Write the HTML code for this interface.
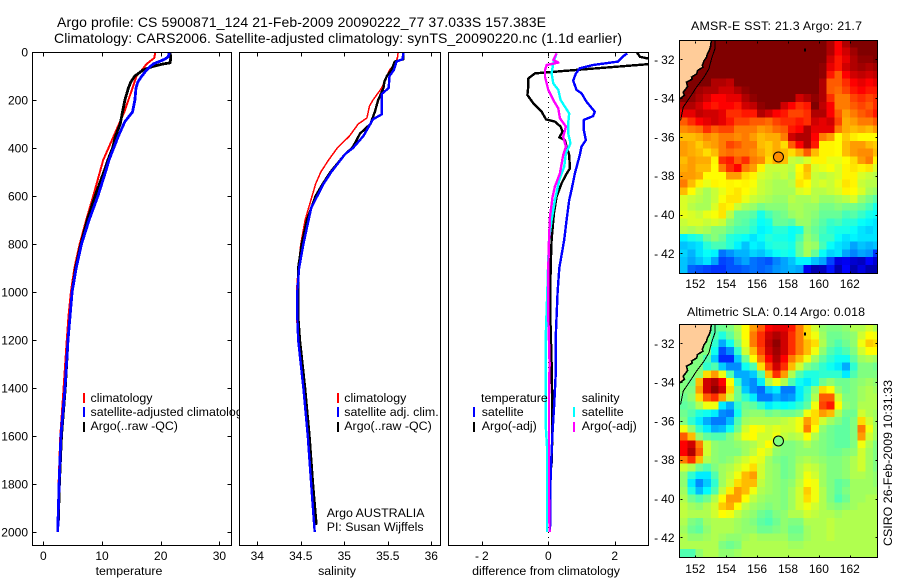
<!DOCTYPE html>
<html lang="en">
<head>
<meta charset="utf-8">
<title>Argo profile</title>
<style>
html,body{margin:0;padding:0;background:#fff;}
svg{display:block;}
text{font-family:"Liberation Sans",sans-serif;fill:#000;}
.t14{font-size:14px;}
.t13{font-size:12.4px;}
.t12{font-size:12px;}
</style>
</head>
<body>
<svg id="fig" width="900" height="580" viewBox="0 0 900 580" xmlns="http://www.w3.org/2000/svg">
<rect x="0" y="0" width="900" height="580" fill="#fff"/>
<defs>
<clipPath id="clip1"><rect x="32" y="52" width="199" height="493"/></clipPath>
<clipPath id="clip2"><rect x="240" y="52" width="200" height="493"/></clipPath>
<clipPath id="clip3"><rect x="448" y="52" width="200" height="493"/></clipPath>
<clipPath id="clipM1"><rect x="680" y="41" width="197" height="232"/></clipPath>
<clipPath id="clipM2"><rect x="680" y="325" width="197" height="232"/></clipPath>
</defs>
<text class="t14" x="57" y="27" textLength="489">Argo profile: CS 5900871_124 21-Feb-2009 20090222_77 37.033S 157.383E</text>
<text class="t14" x="54" y="43" textLength="568">Climatology: CARS2006. Satellite-adjusted climatology: synTS_20090220.nc (1.1d earlier)</text>
<g id="root"></g>
</svg>
<script>
// ---------- temperature panel data ----------
var tempClimDepth=[0,25,50,75,100,150,200,250,300,350,400,450,500,600,700,800,900,1000,1100,1200,1400,1600,1800,2000];
var tempClim=[19.1,18.9,17.6,16.8,15.9,15.2,14.5,13.8,12.9,12.0,11.1,10.2,9.65,8.5,7.3,6.2,5.3,4.7,4.3,4.0,3.45,2.9,2.6,2.45];
var tempArgoDepth=[0,25,45,50,60,75,100,125,150,200,250,300,350,400,450,500,600,700,800,900,1000,1200,1400,1600,1800,1960];
var tempArgo=[21.6,21.7,21.6,20.4,18.7,17,15.6,14.9,14.5,13.9,13.5,13.1,12.3,11.8,11,10.3,8.8,7.5,6.4,5.5,4.9,4.2,3.75,3.1,2.75,2.55];
var tempSatDepth=[0,20,30,50,75,100,125,150,200,250,290,350,400,450,500,600,700,800,900,1000,1200,1400,1600,1800,2000];
var tempSat=[21.5,21.3,20.7,18.7,17.6,16.8,16.1,15.8,15.6,15.2,13.9,12.8,12,11.2,10.6,9.3,7.8,6.5,5.6,4.9,4.2,3.7,3,2.7,2.45];
// ---------- salinity panel data ----------
var salClimDepth=[0,25,50,75,100,150,200,225,275,300,350,400,450,500,550,600,650,700,800,900,1000,1100,1200,1400,1600,1800,2000];
var salClim=[35.62,35.61,35.58,35.52,35.49,35.43,35.33,35.29,35.26,35.16,35.06,34.92,34.82,34.73,34.67,34.63,34.59,34.55,34.50,34.47,34.45,34.45,34.47,34.53,34.58,34.62,34.66];
var salArgoDepth=[0,30,40,75,100,125,150,200,250,300,340,375,400,425,500,550,600,650,700,800,900,1000,1100,1200,1300,1400,1600,1800,1970];
var salArgo=[35.68,35.68,35.58,35.54,35.49,35.46,35.45,35.39,35.35,35.30,35.18,35.13,35.09,35.01,34.84,34.75,34.67,34.62,34.57,34.51,34.47,34.47,34.47,34.49,34.52,34.55,34.60,34.64,34.68];
var salSatDepth=[0,30,40,75,100,150,175,225,260,280,350,400,425,500,550,600,650,700,800,900,1000,1100,1200,1300,1400,1600,1800,2000];
var salSat=[35.68,35.67,35.60,35.57,35.52,35.51,35.43,35.43,35.43,35.33,35.22,35.10,35.01,34.85,34.76,34.69,34.62,34.59,34.53,34.48,34.46,34.46,34.47,34.50,34.53,34.58,34.62,34.66];
// ---------- difference panel data ----------
var diffTArgoDepth=[0,10,20,30,40,48,51,68,79,89,110,137,179,214,249,281,290,311,332,356,367,394,429,485,512,547,603,672,783,900,1100,1300,1462,1601,1712,1767,1950];
var diffTArgo=[2.66,2.71,2.76,3.1,3.5,3.5,3.0,1.46,0.45,-0.40,-0.60,-0.60,-0.63,-0.45,-0.2,-0.07,0.2,0.37,0.43,0.33,0.5,0.55,0.63,0.65,0.53,0.4,0.25,0.17,0.1,0.07,0.06,0.1,0.12,0.12,0.1,0.05,0.02];
var diffTSatDepth=[6,19,40,54,68,89,119,158,172,207,249,267,283,325,367,394,429,506,575,617,700,783,900,1000,1100,1200,1325,1462,1601,1767,2000];
var diffTSat=[2.38,2.24,2.1,1.35,0.95,0.83,0.75,0.85,1.0,1.15,1.4,1.35,1.07,1.07,1.13,1.0,0.95,0.8,0.7,0.63,0.55,0.48,0.33,0.28,0.25,0.22,0.23,0.18,0.12,0.07,0.05];
var diffSSatDepth=[6,47,89,131,158,200,228,256,297,339,381,422,478,533,617,700,783,900,1000,1200,1325,1547,1644,2000];
var diffSSat=[0.25,0.15,0.10,0.15,0.3,0.37,0.5,0.63,0.6,0.6,0.67,0.53,0.48,0.33,0.2,0.1,0.02,-0.01,-0.03,-0.08,-0.08,-0.08,-0.04,-0.04];
var diffSArgoDepth=[6,33,44,54,75,103,158,200,235,276,311,353,394,429,506,561,603,686,783,900,1100,1300,1436,1644,1850,2000];
var diffSArgo=[0.25,0.15,0.30,-0.05,-0.10,-0.10,0,0.15,0.3,0.35,0.53,0.45,0.53,0.45,0.35,0.2,0.13,0.05,0.02,0,0,0.04,0.02,0.02,0.02,0.04];
// ---------- tick labels ----------
var depthTicks=[0,200,400,600,800,1000,1200,1400,1600,1800,2000];
var tempTicks=[0,10,20,30];
var salTicks=[34,34.5,35,35.5,36];
var diffTicks=[-2,0,2];
var lonTicks=[152,154,156,158,160,162];
var latTicks=[-32,-34,-36,-38,-40,-42];
// ---------- coast / shelf (lon,lat) ----------
var coastLon=[153.05,153.0,152.98,152.9,152.79,152.72,152.57,152.45,152.5,152.14,152.1,151.76,151.8,151.43,151.5,151.22,151.3,151.0];
var coastLat=[-31,-31.2,-31.38,-31.55,-31.72,-31.9,-32.07,-32.32,-32.4,-32.58,-32.75,-32.92,-33.02,-33.18,-33.4,-33.70,-33.85,-34.04];
var shelfLon=[153.27,153.27,153.05,152.88,152.57,152.08,151.65,151.22,151.04];
var shelfLat=[-31,-31.46,-31.98,-32.49,-32.92,-33.44,-33.96,-34.47,-35.16];
var floatLon=157.383;
var floatLat=-37.033;
var floatSstIndex=49;
var floatSlaIndex=33;
// ---------- SST grid, colour index 0-63, north to south ----------
var sstGrid=[
[63,63,63,63,63,63,63,63,63,63,63,63,63,63,63,63,63,63,63,60,56,60,63,63,63,63],
[63,63,63,63,63,63,63,63,63,63,63,63,63,63,63,63,63,63,63,60,56,58,61,63,63,63],
[63,63,63,63,63,63,63,63,63,63,63,63,63,63,63,63,63,63,63,58,55,57,60,62,62,63],
[63,63,63,63,63,63,63,63,63,63,63,63,63,63,63,63,63,63,62,57,55,58,60,61,60,61],
[63,63,63,63,63,63,63,63,63,63,63,63,63,63,63,63,63,63,62,55,52,56,58,59,58,59],
[63,63,63,63,60,60,59,63,63,63,63,63,63,63,63,63,63,63,60,52,52,54,56,57,56,57],
[63,63,61,60,60,58,58,60,62,63,63,63,63,63,63,63,63,63,60,52,51,53,55,56,55,55],
[63,62,60,58,56,56,57,57,60,62,63,63,63,63,63,58,60,62,60,54,50,50,53,54,53,54],
[60,60,58,56,55,56,56,55,58,59,62,63,63,58,56,54,55,63,59,56,50,50,52,53,52,54],
[57,57,59,58,58,57,54,54,55,55,60,58,56,55,53,53,54,60,60,56,52,48,50,52,53,55],
[52,54,56,57,58,57,55,53,53,52,52,51,53,54,54,55,54,58,57,58,53,47,48,50,50,52],
[49,50,51,54,52,53,53,50,50,50,48,49,51,52,55,56,60,57,57,57,50,47,46,47,46,48],
[46,46,47,49,48,50,50,49,50,48,46,47,47,50,58,60,60,56,50,48,42,45,43,42,42,42],
[48,47,45,47,48,50,53,52,50,50,46,45,47,44,52,56,60,55,40,40,42,46,48,48,46,45],
[48,47,46,44,46,50,51,50,50,49,47,45,47,46,44,47,52,46,40,40,42,46,48,49,49,46],
[46,48,47,47,40,54,55,52,54,50,49,44,47,46,36,35,37,40,40,38,38,42,44,48,50,40],
[47,48,46,46,42,50,54,56,50,48,40,36,36,36,35,42,46,37,38,39,37,40,41,40,41,37],
[48,48,47,42,42,42,48,48,44,40,37,36,35,36,34,40,45,36,35,36,37,40,40,37,36,35],
[50,46,40,38,40,42,40,42,40,39,36,35,34,34,35,41,42,36,37,36,38,41,40,36,35,35],
[46,42,36,34,36,38,40,41,42,38,36,35,34,34,34,37,38,35,35,36,37,40,42,37,34,33],
[37,36,35,34,36,39,41,41,38,36,35,34,33,33,35,34,34,35,33,33,34,35,37,33,31,29],
[37,35,34,34,37,41,40,36,34,33,31,32,32,32,34,34,33,33,31,31,32,31,31,30,28,25],
[38,37,36,38,39,41,35,30,30,29,25,28,30,31,33,34,33,32,30,30,30,28,29,27,25,24],
[36,37,37,36,37,36,32,30,29,27,24,25,30,30,29,33,33,31,29,27,28,26,26,24,23,22],
[35,34,35,34,32,32,30,28,28,26,23,24,26,26,24,25,32,30,28,26,25,25,24,22,21,22],
[23,25,26,30,32,30,26,25,24,22,24,26,25,25,24,28,33,31,27,27,24,22,23,22,22,22],
[20,21,22,26,28,28,26,23,20,23,22,25,26,26,25,30,34,33,28,24,22,21,18,20,19,20],
[21,19,22,24,23,15,17,19,19,21,20,22,24,25,24,30,34,30,24,21,22,18,16,18,17,11],
[20,18,20,22,18,12,13,16,18,15,14,13,16,18,20,23,23,20,18,12,6,7,5,4,8,5],
[20,14,13,12,11,11,13,13,14,15,14,15,17,18,19,18,7,3,4,9,3,8,3,6,3,3]
];
// ---------- SLA grid, colour index 0-63, north to south ----------
var slaGrid=[
[33,33,33,33,31,32,33,36,42,48,52,56,57,57,55,50,44,38,34,33,33,34,36,36,38,36],
[33,33,33,33,30,27,31,35,42,50,54,58,60,58,54,50,44,40,35,32,32,33,34,38,42,40],
[33,33,33,33,28,20,26,33,40,50,54,59,62,58,54,50,46,44,36,32,30,32,34,40,45,44],
[33,33,33,33,26,14,18,28,38,46,53,58,61,58,54,50,46,40,34,30,28,30,33,38,42,42],
[33,33,33,30,22,12,12,22,32,42,50,56,60,56,50,46,40,35,31,28,26,26,31,35,36,35],
[33,33,33,28,30,22,18,18,26,30,44,53,58,54,46,38,33,31,28,26,24,20,28,33,33,32],
[33,33,34,44,48,40,30,20,20,22,30,46,54,48,36,30,27,27,28,28,28,24,30,33,33,33],
[33,32,46,58,60,56,42,28,20,18,24,36,40,36,30,26,24,27,32,34,32,32,33,34,35,34],
[33,33,48,58,62,58,44,32,22,18,16,22,24,17,17,24,28,34,44,42,34,32,33,35,36,35],
[32,34,44,52,54,48,38,32,28,24,17,17,20,18,19,24,29,36,52,52,38,33,33,35,36,36],
[31,32,36,40,40,24,20,28,32,31,28,24,26,25,26,28,31,40,53,55,42,34,33,36,36,36],
[32,30,27,26,24,18,17,26,33,34,34,32,33,32,32,33,40,44,48,46,36,32,32,38,36,35],
[33,28,24,20,17,17,21,30,35,36,36,36,36,37,38,40,48,44,38,35,33,31,33,44,38,35],
[40,34,28,24,20,21,26,32,38,42,40,38,39,38,38,40,50,42,34,32,31,31,33,50,40,35],
[52,46,34,31,30,30,33,36,40,42,38,38,40,37,36,37,42,36,33,32,31,31,33,48,38,35],
[56,58,50,38,34,33,33,34,35,36,38,41,36,33,33,34,36,34,33,32,31,31,33,40,36,33],
[56,60,52,38,34,33,33,33,35,37,40,38,34,33,33,34,34,34,33,32,32,33,34,38,35,33],
[50,54,46,36,34,33,34,36,38,40,39,35,33,32,33,35,36,35,34,33,33,34,36,38,35,33],
[38,36,32,30,33,35,36,38,40,44,38,35,34,32,33,36,38,37,35,33,33,34,36,38,35,33],
[34,28,24,24,30,35,37,40,46,48,38,35,34,32,33,36,40,38,35,33,33,34,36,36,35,34],
[34,24,18,22,28,35,38,44,46,46,37,35,34,33,34,37,42,40,35,33,31,32,35,35,35,34],
[35,27,21,25,30,37,43,48,46,40,36,35,34,33,35,38,45,40,36,33,31,33,35,35,35,35],
[36,32,30,32,36,42,48,48,42,37,35,34,34,33,35,38,44,40,36,33,30,32,35,35,36,36],
[37,35,34,36,38,45,47,42,37,35,34,33,34,33,35,38,40,38,36,34,33,34,35,36,36,36],
[37,36,36,36,38,41,40,37,35,34,32,31,33,34,36,36,38,37,36,36,35,36,36,36,36,36],
[36,33,32,35,36,36,36,35,34,33,31,30,32,34,33,33,36,36,36,37,36,36,36,36,36,36],
[35,32,31,34,36,36,36,35,34,34,32,32,33,34,32,32,35,36,36,37,36,36,36,36,36,36],
[36,34,34,35,36,35,34,34,35,36,35,35,35,35,33,33,35,36,36,37,36,36,36,36,36,36],
[36,36,36,36,36,33,32,33,36,36,36,36,36,36,35,35,36,36,36,36,36,36,36,36,36,36],
[30,30,34,36,36,34,34,35,36,36,36,36,36,36,36,36,36,36,36,36,36,36,36,36,36,36]
];

var NS='http://www.w3.org/2000/svg';
var root=document.getElementById('root');
function el(tag,attrs,parent,txt){
  var e=document.createElementNS(NS,tag);
  for(var k in attrs){e.setAttribute(k,attrs[k]);}
  if(txt!==undefined){e.textContent=txt;}
  (parent||root).appendChild(e);
  return e;
}
// ---------- axis functions ----------
function depthY(d){return 52+0.24*d;}
function tempX(t){return 43.3+5.87*t;}
function salX(s){return 257.3+87*(s-34);}
function diffX(v){return 548.3+33.2*v;}
function lonX(lon){return 695.3+(lon-152)*15.45;}
function latY1(lat){return 59.3+(-32-lat)*19.4;}
function latY2(lat){return 343.3+(-32-lat)*19.4;}

function jet(i,lowShift){
  if(i>=42&&i<=52){i-=2.5;}
  else if(i>52&&i<58){i-=(58-i)/2.4;}
  else if(i<42){i-=lowShift;}
  var v=i/63;
  function c(x){return Math.round(255*Math.max(0,Math.min(1,x)));}
  return 'rgb('+c(1.5-Math.abs(4*v-3))+','+c(1.5-Math.abs(4*v-2))+','+c(1.5-Math.abs(4*v-1))+')';
}
function profile(depths,vals,xf,color,w,clip,name,parent){
  var pts=[];
  for(var i=0;i<depths.length;i++){pts.push(xf(vals[i]).toFixed(1)+','+depthY(depths[i]).toFixed(1));}
  var p=el('polyline',{points:pts.join(' '),fill:'none',stroke:color,'stroke-width':w,'clip-path':'url(#'+clip+')','shape-rendering':'crispEdges','stroke-linejoin':'round'},parent);
  
  
  return p;
}
function frame(x0,y0,x1,y1,name){
  var r=el('rect',{x:x0+0.5,y:y0+0.5,width:x1-x0,height:y1-y0,fill:'none',stroke:'#000','stroke-width':1,'shape-rendering':'crispEdges'});
  
  
}
function bg(x0,y0,x1,y1){el('rect',{x:x0,y:y0,width:x1-x0+1,height:y1-y0+1,fill:'#fff'});}
function tick(x1,y1,x2,y2){
  var l=el('line',{x1:Math.round(x1)+0.5,y1:Math.round(y1)+0.5,x2:Math.round(x2)+0.5,y2:Math.round(y2)+0.5,stroke:'#000','stroke-width':1,'shape-rendering':'crispEdges'});
  
  
}
function label(x,y,str,anchor,cls,name){
  var t=el('text',{x:x,y:y,'text-anchor':anchor,'class':cls},root,str);
  
  
  return t;
}
function negLabel(x,y,val,anchor,name){
  var t=label(x,y,'',anchor,'t12',name);
  if(val<0){
    el('tspan',{'letter-spacing':'3'},t,'-');
    el('tspan',{},t,String(-val));
  } else {
    t.textContent=String(val);
  }
  return t;
}
function legendBar(x,y,color,name){
  var r=el('rect',{x:x,y:y,width:2,height:10,fill:color,'shape-rendering':'crispEdges'});
  
  
}
function panelXTicks(ticks,xf,y0,y1,name,len){
  ticks.forEach(function(v){
    tick(xf(v),y0,xf(v),y0+len);
    tick(xf(v),y1,xf(v),y1-len);
    negLabel(xf(v),560,v,'middle',name);
  });
}

// ---------- panel 1: temperature ----------
bg(32,52,231,545);
profile(tempClimDepth,tempClim,tempX,'#ff0000',2,'clip1','temperature-climatology-line');
profile(tempArgoDepth,tempArgo,tempX,'#000000',2.8,'clip1','temperature-argo-line');
profile(tempSatDepth,tempSat,tempX,'#0000ff',2.8,'clip1','temperature-satellite-line');
frame(32,52,231,545,'temperature-axes');
depthTicks.forEach(function(d){
  tick(32,depthY(d),36,depthY(d));
  tick(231,depthY(d),227,depthY(d));
  label(28,depthY(d)+4.5,String(d),'end','t12','depth-tick-label');
});
panelXTicks(tempTicks,tempX,52,545,'temperature-tick-label',4);
label(129,575,'temperature','middle','t13','temperature-axis-title');
legendBar(83,393,'#ff0000','legend-key-climatology');
legendBar(83,407,'#0000ff','legend-key-satellite-adjusted');
legendBar(83,422,'#000000','legend-key-argo');
label(90.5,402,'climatology','start','t13','legend-entry-climatology');
label(90.5,416,'satellite-adjusted climatology','start','t13','legend-entry-satellite-adjusted');
label(90.5,430,'Argo(..raw -QC)','start','t13','legend-entry-argo');

// ---------- panel 2: salinity ----------
bg(239,52,440,545);
profile(salClimDepth,salClim,salX,'#ff0000',1.5,'clip2','salinity-climatology-line');
profile(salArgoDepth,salArgo,salX,'#000000',2.4,'clip2','salinity-argo-line');
profile(salSatDepth,salSat,salX,'#0000ff',2.4,'clip2','salinity-satellite-line');
frame(239,52,440,545,'salinity-axes');
panelXTicks(salTicks,salX,52,545,'salinity-tick-label',4);
label(337,575,'salinity','middle','t13','salinity-axis-title');
legendBar(337,393,'#ff0000','legend-key-climatology');
legendBar(337,407,'#0000ff','legend-key-satellite-adj');
legendBar(337,422,'#000000','legend-key-argo');
label(344.3,402,'climatology','start','t13','legend-entry-climatology');
label(344.3,416,'satellite adj. clim.','start','t13','legend-entry-satellite-adj');
label(344.3,430,'Argo(..raw -QC)','start','t13','legend-entry-argo');
label(326.7,517,'Argo AUSTRALIA','start','t13','float-program-label');
label(326.7,531,'PI: Susan Wijffels','start','t13','principal-investigator-label');

// ---------- panel 3: difference ----------
bg(448,52,648,545);
var zero=el('line',{x1:diffX(0),y1:52,x2:diffX(0),y2:545,stroke:'#000','stroke-width':1,'stroke-dasharray':'1 4','shape-rendering':'crispEdges'});


profile(diffTArgoDepth,diffTArgo,diffX,'#000000',2.4,'clip3','difference-temperature-argo-line');
profile(diffTSatDepth,diffTSat,diffX,'#0000ff',2.4,'clip3','difference-temperature-satellite-line');
profile(diffSSatDepth,diffSSat,diffX,'#00ffff',2.4,'clip3','difference-salinity-satellite-line');
profile(diffSArgoDepth,diffSArgo,diffX,'#ff00ff',2.4,'clip3','difference-salinity-argo-line');
frame(448,52,648,545,'difference-axes');
panelXTicks(diffTicks,diffX,52,545,'difference-tick-label',4);
label(546,575,'difference from climatology','middle','t13','difference-axis-title');
label(481,402,'temperature','start','t13','legend-heading-temperature');
label(481.7,416,'satellite','start','t13','legend-entry-temperature-satellite');
label(481.7,430,'Argo(-adj)','start','t13','legend-entry-temperature-argo');
legendBar(473,407,'#0000ff','legend-key-temperature-satellite');
legendBar(473,422,'#000000','legend-key-temperature-argo');
label(581.7,402,'salinity','start','t13','legend-heading-salinity');
label(581.7,416,'satellite','start','t13','legend-entry-salinity-satellite');
label(581.7,430,'Argo(-adj)','start','t13','legend-entry-salinity-argo');
legendBar(573,407,'#00ffff','legend-key-salinity-satellite');
legendBar(573,422,'#ff00ff','legend-key-salinity-argo');

// ---------- maps ----------
function drawMap(grid,latY,clip,cellName,x0,y0,x1,y1,dotIndex,mapName,labelY,lowShift){
  var g=el('g',{'clip-path':'url(#'+clip+')'});
  
  
  var cw=0.5*15.45, ch=0.4*19.4;
  for(var r=0;r<grid.length;r++){
    for(var c=0;c<grid[r].length;c++){
      var lon=151+c*0.5, lat=-31-r*0.4;
      var cell=el('rect',{x:lonX(lon).toFixed(2),y:latY(lat).toFixed(2),width:(cw+0.6).toFixed(2),height:(ch+0.6).toFixed(2),fill:jet(grid[r][c],lowShift),'shape-rendering':'crispEdges'},g);
      
      
    }
  }
  var landPts=[];
  coastLon.forEach(function(lo,i){landPts.push(lonX(lo).toFixed(1)+','+latY(coastLat[i]).toFixed(1));});
  landPts.push('679,'+latY(coastLat[coastLat.length-1]).toFixed(1));
  landPts.push('679,'+y0);
  var land=el('polygon',{points:landPts.join(' '),fill:'#ffcc99',stroke:'none'},g);
  
  
  var coastPts=[];
  coastLon.forEach(function(lo,i){coastPts.push(lonX(lo).toFixed(1)+','+latY(coastLat[i]).toFixed(1));});
  var coast=el('polyline',{points:coastPts.join(' '),fill:'none',stroke:'#000','stroke-width':1.6,'shape-rendering':'crispEdges'},g);
  
  
  var shelfPts=[];
  shelfLon.forEach(function(lo,i){shelfPts.push(lonX(lo).toFixed(1)+','+latY(shelfLat[i]).toFixed(1));});
  var shelf=el('polyline',{points:shelfPts.join(' '),fill:'none',stroke:'#000','stroke-width':1,'shape-rendering':'crispEdges'},g);
  
  
  var isl=el('rect',{x:lonX(159.05),y:latY(-31.45),width:2,height:3,fill:'#000','shape-rendering':'crispEdges'},g);
  
  
  var dot=el('circle',{cx:lonX(floatLon),cy:latY(floatLat),r:5,fill:jet(dotIndex,lowShift),stroke:'#000','stroke-width':1},root);
  
  
  frame(x0-1,y0-1,x1,y1,mapName+'-frame');
  lonTicks.forEach(function(lo){
    tick(lonX(lo),y0,lonX(lo),y0+2);
    tick(lonX(lo),y1,lonX(lo),y1-2);
    label(lonX(lo),labelY,String(lo),'middle','t12','longitude-tick-label');
  });
  latTicks.forEach(function(la){
    tick(x0,latY(la),x0+2,latY(la));
    tick(x1,latY(la),x1-2,latY(la));
    negLabel(674.5,latY(la)+4.5,la,'end','latitude-tick-label');
  });
}
drawMap(sstGrid,latY1,'clipM1','sst-cell',680,41,877,273,floatSstIndex,'sst-map',288,0);
drawMap(slaGrid,latY2,'clipM2','sla-cell',680,325,877,557,floatSlaIndex,'sla-map',573,1.5);
var t1=label(691,30,'AMSR-E SST: 21.3 Argo: 21.7','start','t13','sst-map-title');
t1.setAttribute('textLength','171');
var t2=label(687,316,'Altimetric SLA: 0.14  Argo: 0.018','start','t13','sla-map-title');
t2.setAttribute('textLength','178');
var stamp=label(892,546,'CSIRO 26-Feb-2009 10:31:33','start','t13','csiro-timestamp');
stamp.setAttribute('transform','rotate(-90 892 546)');
stamp.setAttribute('textLength','166');
</script>
</body>
</html>
